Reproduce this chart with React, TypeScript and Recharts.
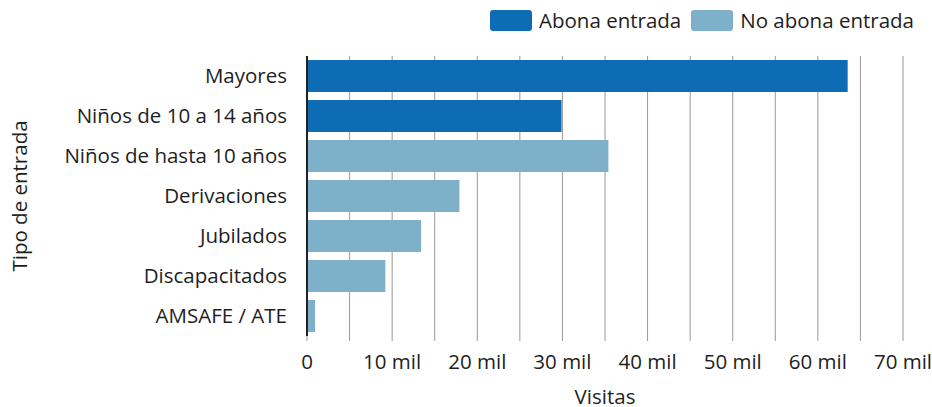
import React from 'react';
import { BarChart, Bar, XAxis, YAxis, CartesianGrid, Legend, Label } from 'recharts';

const tipos = [
  'Mayores',
  'Niños de 10 a 14 años',
  'Niños de hasta 10 años',
  'Derivaciones',
  'Jubilados',
  'Discapacitados',
  'AMSAFE / ATE',
];
const abonaEntrada = [63500, 29900, 0, 0, 0, 0, 0];
const noAbonaEntrada = [0, 0, 35400, 17900, 13400, 9200, 950];
const xTicks = [0, 5000, 10000, 15000, 20000, 25000, 30000, 35000, 40000, 45000, 50000, 55000, 60000, 65000, 70000];

const series = [
  { key: 'abona', name: 'Abona entrada', color: '#0e6cb5' },
  { key: 'noAbona', name: 'No abona entrada', color: '#7eb0c9' },
];

const data = tipos.map((t, i) => ({ tipo: t, abona: abonaEntrada[i], noAbona: noAbonaEntrada[i] }));

const TEXT = '#1e1e1e';
const FONT = 20.5;

function fmtTick(v: number) {
  if (v === 0) return '0';
  if (v % 10000 !== 0) return '';
  return `${v / 1000} mil`;
}

function LegendBox() {
  return (
    <div style={{ display: 'flex', justifyContent: 'flex-end', alignItems: 'center', height: 32 }}>
      {series.map(s => (
        <div key={s.key} style={{ display: 'flex', alignItems: 'center', marginLeft: 10 }}>
          <span style={{ width: 42, height: 21, background: s.color, borderRadius: 3, display: 'inline-block' }} />
          <span style={{ marginLeft: 7, fontSize: FONT, color: TEXT }}>{s.name}</span>
        </div>
      ))}
    </div>
  );
}

export default function App() {
  return (
    <div style={{ position: 'absolute', left: 0, top: 0, fontFamily: '"Open Sans", sans-serif' }}>
      <BarChart
        width={932}
        height={407}
        data={data}
        layout="vertical"
        barCategoryGap="10%"
        margin={{ top: 24, right: 29, left: 0, bottom: 0 }}
      >
        <CartesianGrid horizontal={false} stroke="#999" />
        <XAxis
          type="number"
          domain={[0, 70000]}
          ticks={xTicks}
          interval={0}
          tickFormatter={fmtTick}
          axisLine={false}
          tickLine={{ stroke: '#999' }}
          tickSize={5}
          tickMargin={13}
          height={71}
          tick={{ fill: TEXT, fontSize: FONT }}
        >
          <Label
            content={({ viewBox }: any) => (
              <text x={viewBox.x + viewBox.width / 2} y={404} textAnchor="middle" fill={TEXT} fontSize={FONT}>
                Visitas
              </text>
            )}
          />
        </XAxis>
        <YAxis
          type="category"
          dataKey="tipo"
          width={307}
          axisLine={{ stroke: '#222', strokeWidth: 2 }}
          tickLine={false}
          tickSize={0}
          tickMargin={20}
          tick={{ fill: TEXT, fontSize: FONT }}
        >
          <Label
            content={({ viewBox }: any) => {
              const cy = viewBox.y + viewBox.height / 2;
              return (
                <text x={19} y={cy} transform={`rotate(-90 19 ${cy})`} textAnchor="middle" dominantBaseline="central" fill={TEXT} fontSize={FONT}>
                  Tipo de entrada
                </text>
              );
            }}
          />
        </YAxis>
        <Legend
          verticalAlign="top"
          align="right"
          content={() => <LegendBox />}
          wrapperStyle={{ top: 4, right: 18, left: 'auto', width: 'auto' }}
        />
        {series.map(s => (
          <Bar key={s.key} dataKey={s.key} name={s.name} stackId="a" fill={s.color} isAnimationActive={false} />
        ))}
      </BarChart>
    </div>
  );
}
